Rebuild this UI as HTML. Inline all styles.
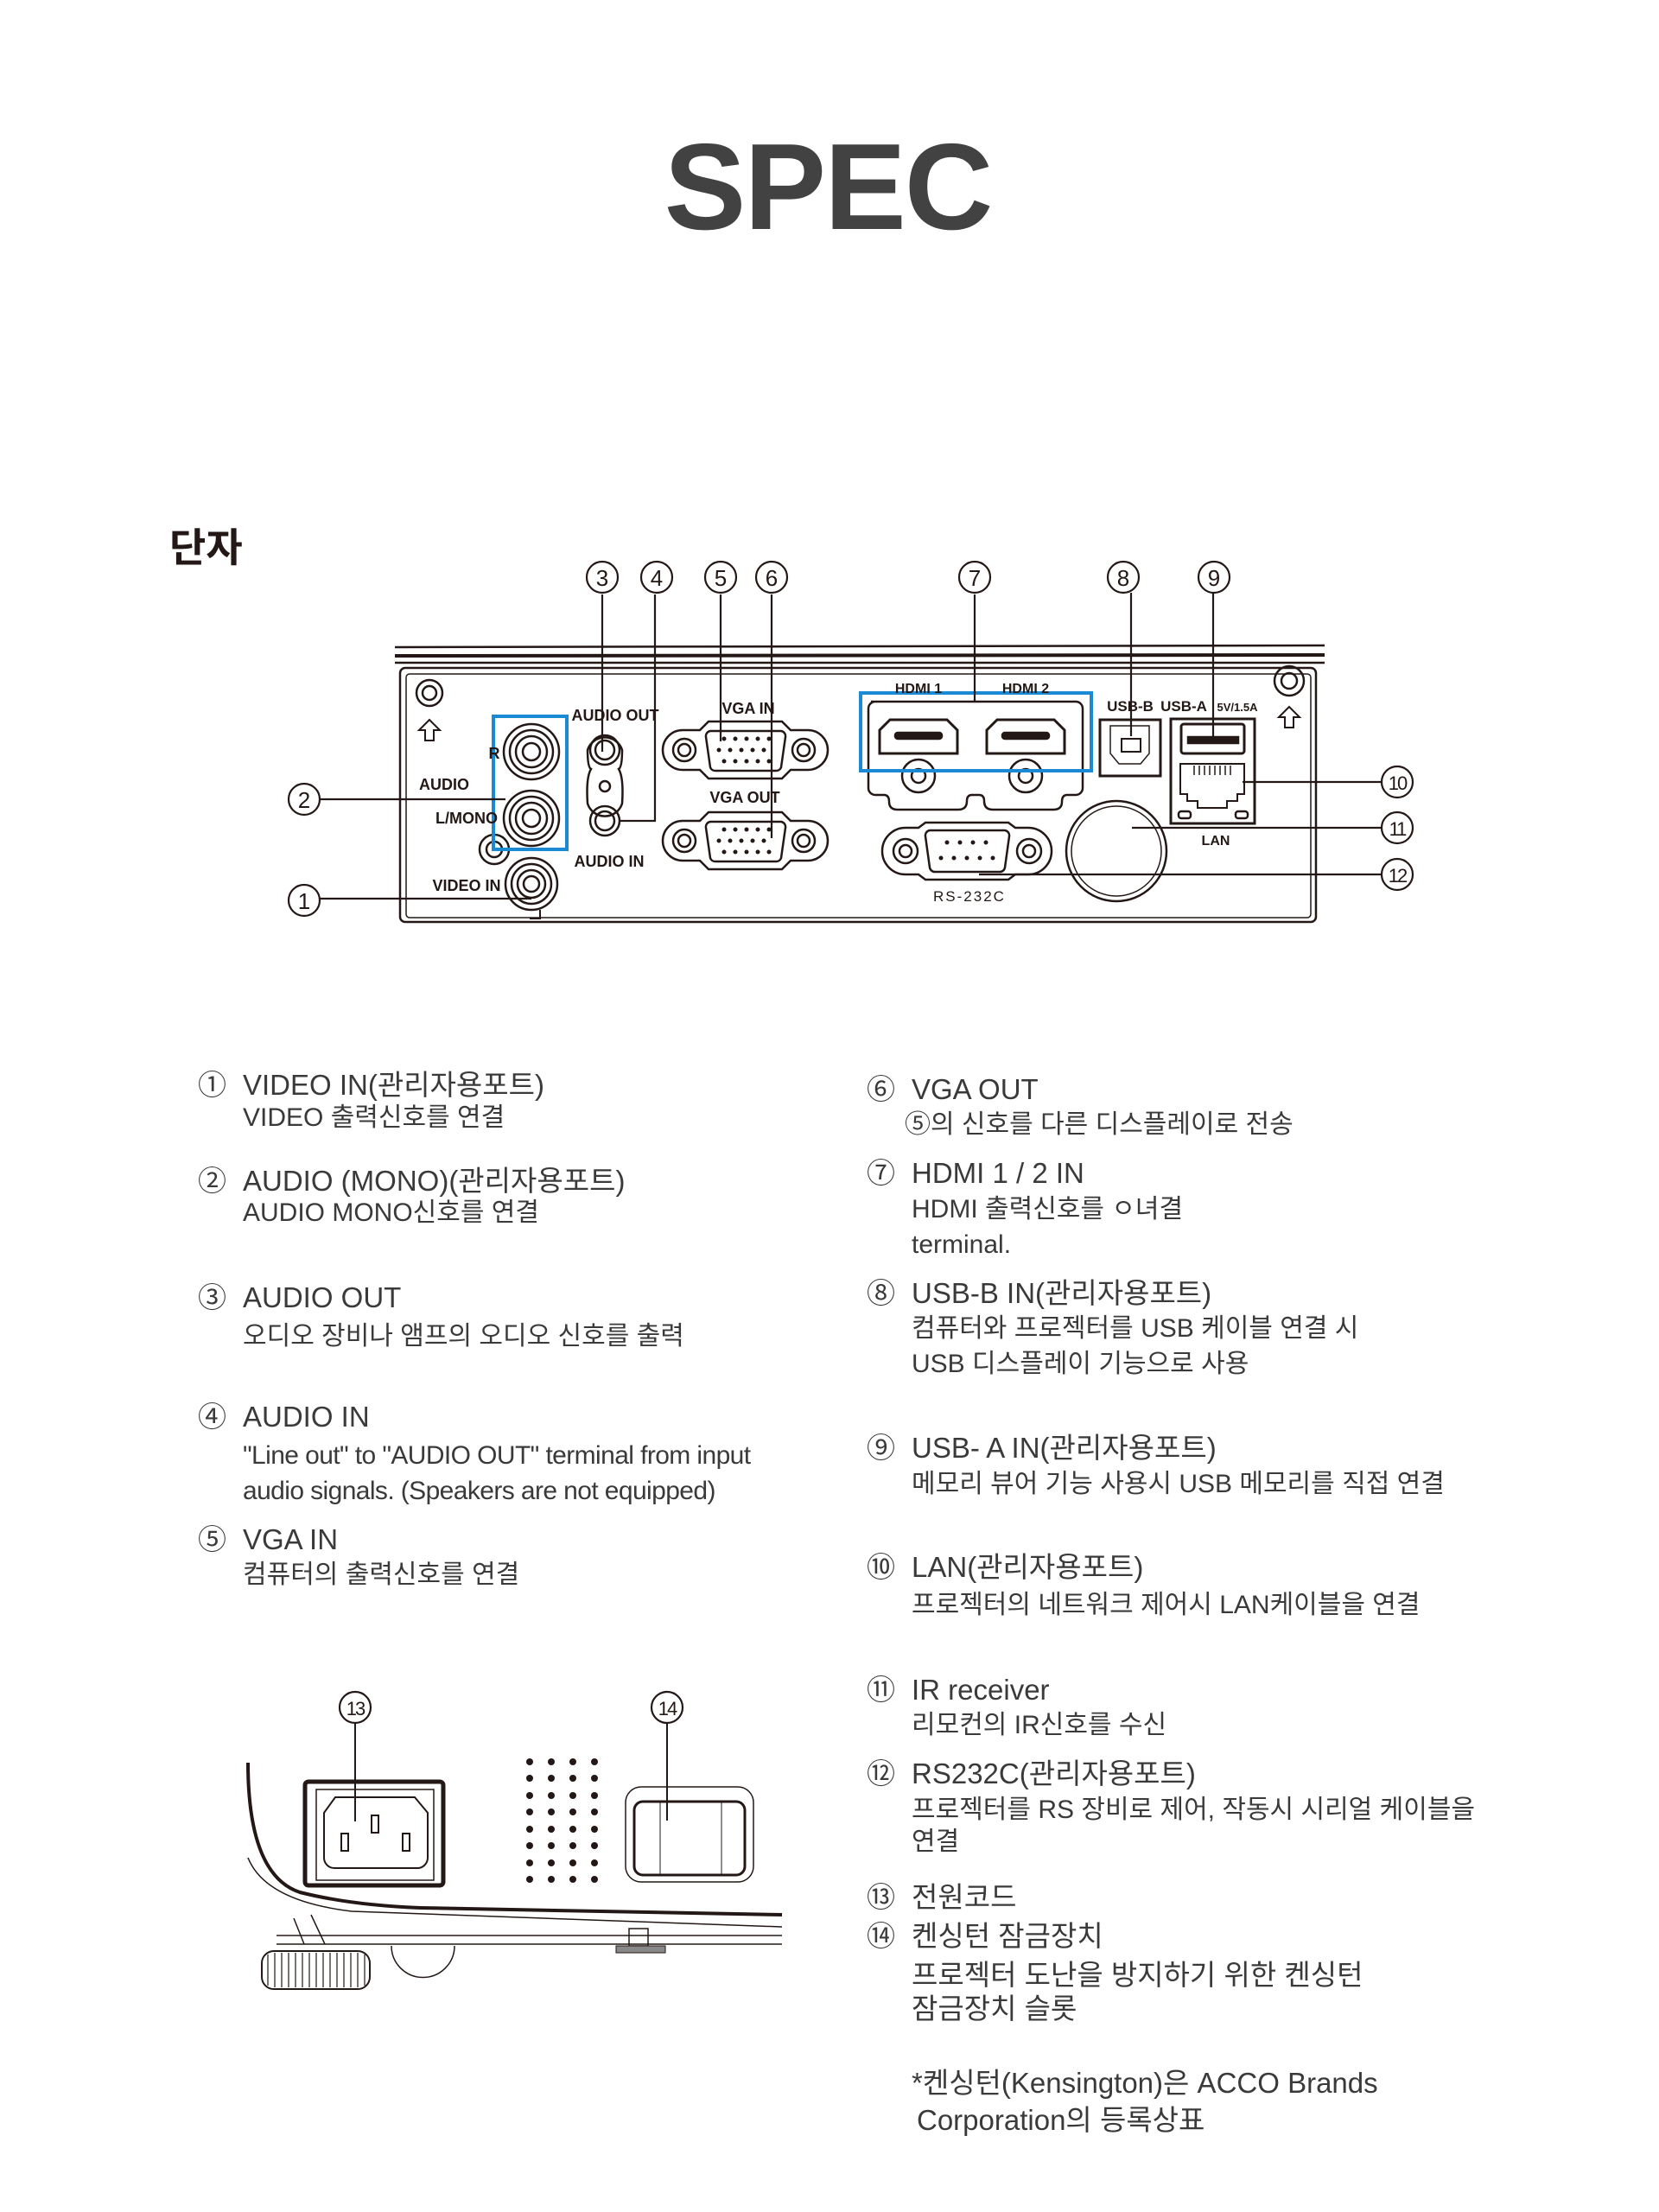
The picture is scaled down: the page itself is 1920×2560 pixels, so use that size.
<!DOCTYPE html>
<html><head><meta charset="utf-8"><style>
html,body{margin:0;padding:0;background:#fff;}
body{width:1920px;height:2560px;overflow:hidden;}
svg{display:block}
.t{font-family:"Liberation Sans","Noto Sans CJK KR",sans-serif;fill:#3a3a3a;}
.h{font-size:33px;}
.s{font-size:30px;}
.lb{font-family:"Liberation Sans",sans-serif;font-weight:bold;font-size:18px;fill:#231815;text-anchor:middle;}
.cn{font-family:"Liberation Sans",sans-serif;font-size:26px;fill:#231815;text-anchor:middle;}
</style></head><body>
<svg width="1920" height="2560" viewBox="0 0 1920 2560" xmlns="http://www.w3.org/2000/svg">
<text x="958" y="265" text-anchor="middle" font-family="Liberation Sans,sans-serif" font-weight="bold" font-size="142" fill="#424242" letter-spacing="-2">SPEC</text>
<text x="196" y="650" font-family="Liberation Sans,Noto Sans CJK KR,sans-serif" font-weight="bold" font-size="46" fill="#231815">단자</text>

<g fill="none" stroke="#231815" stroke-width="2.5">
<!-- panel -->
<line x1="457" y1="749" x2="1533" y2="747"/>
<line x1="457" y1="759" x2="1533" y2="758" stroke-width="4"/>
<line x1="457" y1="767" x2="1533" y2="767"/>
<rect x="463" y="773" width="1060" height="294" rx="6"/>
<rect x="470" y="780" width="1047" height="282" rx="4" stroke-width="1.5"/>
<!-- screws -->
<circle cx="497" cy="802" r="15"/><circle cx="497" cy="802" r="8"/>
<circle cx="1492" cy="788" r="17"/><circle cx="1492" cy="788" r="9"/>
<path d="M497 833 l-12 12 h7 v12 h10 v-12 h7 z" stroke-width="2"/>
<path d="M1492 818 l-12 12 h7 v12 h10 v-12 h7 z" stroke-width="2"/>
<!-- audio jacks -->
<circle cx="615" cy="870" r="32"/><circle cx="615" cy="870" r="25"/><circle cx="615" cy="870" r="18"/><circle cx="615" cy="870" r="10"/>
<circle cx="615" cy="947" r="32"/><circle cx="615" cy="947" r="25"/><circle cx="615" cy="947" r="18"/><circle cx="615" cy="947" r="10"/>
<circle cx="572" cy="983" r="17"/><circle cx="572" cy="983" r="9"/>
<circle cx="615" cy="1023" r="30"/><circle cx="615" cy="1023" r="23"/><circle cx="615" cy="1023" r="16"/><circle cx="615" cy="1023" r="9"/>
<path d="M625 1053 v10 h-12" stroke-width="2"/>
<!-- audio out/in -->
<path d="M680 868 a21 21 0 0 1 40 0 q0 20 -4 22 q6 10 4 40 a21 21 0 0 1 -40 0 q-2 -30 4 -40 q-4 -2 -4 -22z"/>
<circle cx="700" cy="868" r="17"/><circle cx="700" cy="868" r="11"/>
<circle cx="700" cy="910" r="6"/>
<circle cx="700" cy="950" r="17"/><circle cx="700" cy="950" r="11"/>
<!-- VGA -->
<g id="vga">
<path d="M790 845 h20 l10 -10 h85 l10 10 h20 a22 22 0 0 1 0 46 h-20 l-10 10 h-85 l-10 -10 h-20 a22 22 0 0 1 0 -46z"/>
<circle cx="792" cy="868" r="13"/><circle cx="792" cy="868" r="7"/>
<circle cx="930" cy="868" r="13"/><circle cx="930" cy="868" r="7"/>
<path d="M822 846 h82 a6 6 0 0 1 5 7 l-5 35 a6 6 0 0 1 -6 4 h-70 a6 6 0 0 1 -6 -4 l-5 -35 a6 6 0 0 1 5 -7z"/>
<g fill="#231815" stroke="none">
<circle cx="838" cy="855" r="2.5"/><circle cx="851" cy="855" r="2.5"/><circle cx="864" cy="855" r="2.5"/><circle cx="877" cy="855" r="2.5"/><circle cx="890" cy="855" r="2.5"/>
<circle cx="832" cy="868" r="2.5"/><circle cx="845" cy="868" r="2.5"/><circle cx="858" cy="868" r="2.5"/><circle cx="871" cy="868" r="2.5"/><circle cx="884" cy="868" r="2.5"/>
<circle cx="838" cy="881" r="2.5"/><circle cx="851" cy="881" r="2.5"/><circle cx="864" cy="881" r="2.5"/><circle cx="877" cy="881" r="2.5"/><circle cx="890" cy="881" r="2.5"/>
</g>
</g>
<use href="#vga" transform="translate(0,105)"/>
<!-- HDMI region -->
<path d="M1008 812 h237 a8 8 0 0 1 8 8 v92 a8 8 0 0 1 -8 8 h-10 q-6 0 -6 8 q0 9 -10 9 h-70 q-10 0 -10 -10 q0 -7 -6 -7 h-8 q-6 0 -6 7 q0 10 -10 10 h-70 q-10 0 -10 -9 q0 -8 -6 -8 h-10 a8 8 0 0 1 -8 -8 v-92 a8 8 0 0 1 8 -8z"/>
<path d="M1030 833 h66 l12 12 v27 h-90 v-27z" stroke-width="3"/>
<rect x="1036" y="848" width="54" height="7" rx="3" fill="#231815"/>
<path d="M1154 833 h66 l12 12 v27 h-90 v-27z" stroke-width="3"/>
<rect x="1160" y="848" width="54" height="7" rx="3" fill="#231815"/>
<circle cx="1063" cy="898" r="19"/><circle cx="1063" cy="898" r="8"/>
<circle cx="1187" cy="898" r="19"/><circle cx="1187" cy="898" r="8"/>
<!-- RS232 -->
<path d="M1048 958 h15 l8 -6 h96 l8 6 h15 a27 27 0 0 1 0 54 h-15 l-8 6 h-96 l-8 -6 h-15 a27 27 0 0 1 0 -54z"/>
<circle cx="1048" cy="985" r="14"/><circle cx="1048" cy="985" r="7"/>
<circle cx="1191" cy="985" r="14"/><circle cx="1191" cy="985" r="7"/>
<path d="M1076 961 h87 a6 6 0 0 1 5 7 l-5 36 a6 6 0 0 1 -6 5 h-75 a6 6 0 0 1 -6 -5 l-5 -36 a6 6 0 0 1 5 -7z"/>
<g fill="#231815" stroke="none"><circle cx="1096" cy="975" r="2.5"/><circle cx="1111" cy="975" r="2.5"/><circle cx="1126" cy="975" r="2.5"/><circle cx="1141" cy="975" r="2.5"/>
<circle cx="1089" cy="993" r="2.5"/><circle cx="1104" cy="993" r="2.5"/><circle cx="1119" cy="993" r="2.5"/><circle cx="1134" cy="993" r="2.5"/><circle cx="1149" cy="993" r="2.5"/></g>
<!-- IR -->
<circle cx="1292" cy="985" r="58"/><circle cx="1292" cy="985" r="52" stroke-width="1.5"/>
<!-- USB-B -->
<rect x="1273" y="833" width="70" height="65" stroke-width="3"/>
<path d="M1285 840 h45 v32 l-10 12 h-25 l-10 -12z" stroke-width="1.5"/>
<rect x="1298" y="855" width="22" height="15" stroke-width="2"/>
<!-- USB-A / LAN -->
<rect x="1355" y="832" width="97" height="121" stroke-width="3"/>
<rect x="1367" y="838" width="73" height="34" rx="3" stroke-width="3"/>
<rect x="1375" y="853" width="58" height="7" fill="#231815"/>
<path d="M1366 884 h74 v35 h-8 v8 h-12 v8 h-34 v-8 h-12 v-8 h-8z" stroke-width="2"/>
<g stroke-width="1.5"><line x1="1382" y1="886" x2="1382" y2="897"/><line x1="1388" y1="886" x2="1388" y2="897"/><line x1="1394" y1="886" x2="1394" y2="897"/><line x1="1400" y1="886" x2="1400" y2="897"/><line x1="1406" y1="886" x2="1406" y2="897"/><line x1="1412" y1="886" x2="1412" y2="897"/><line x1="1418" y1="886" x2="1418" y2="897"/><line x1="1424" y1="886" x2="1424" y2="897"/></g>
<rect x="1364" y="939" width="14" height="8" rx="3"/><rect x="1430" y="939" width="14" height="8" rx="3"/>
</g>
<!-- blue boxes -->
<rect x="571" y="829" width="85" height="154" fill="none" stroke="#1a8ad4" stroke-width="4"/>
<rect x="996" y="802" width="267" height="90" fill="none" stroke="#1a8ad4" stroke-width="4"/>
<!-- leaders -->
<g stroke="#231815" stroke-width="2.2" fill="none">
<line x1="697" y1="688" x2="697" y2="870"/>
<polyline points="758,688 758,950 718,950"/>
<line x1="834" y1="688" x2="834" y2="858"/>
<line x1="893" y1="688" x2="893" y2="970"/>
<line x1="1128" y1="688" x2="1128" y2="812"/>
<line x1="1309" y1="686" x2="1309" y2="852"/>
<line x1="1404" y1="686" x2="1404" y2="852"/>
<line x1="1599" y1="905" x2="1438" y2="905"/>
<line x1="1599" y1="958" x2="1310" y2="958"/>
<line x1="1599" y1="1012" x2="1133" y2="1012"/>
<line x1="370" y1="925" x2="585" y2="925"/>
<line x1="370" y1="1040" x2="615" y2="1040"/>
</g>
<!-- circled numbers -->
<g fill="#fff" stroke="#231815" stroke-width="2.2">
<circle cx="697" cy="668" r="18"/><circle cx="760" cy="668" r="18"/><circle cx="834" cy="668" r="18"/><circle cx="893" cy="668" r="18"/>
<circle cx="1128" cy="668" r="18"/><circle cx="1300" cy="668" r="18"/><circle cx="1405" cy="668" r="18"/>
<circle cx="1617" cy="905" r="18"/><circle cx="1617" cy="958" r="18"/><circle cx="1617" cy="1012" r="18"/>
<circle cx="352" cy="925" r="18"/><circle cx="352" cy="1042" r="18"/>
<circle cx="411" cy="1976" r="18"/><circle cx="772" cy="1976" r="18"/>
</g>
<g class="cn">
<text x="697" y="678">3</text><text x="760" y="678">4</text><text x="834" y="678">5</text><text x="893" y="678">6</text>
<text x="1128" y="678">7</text><text x="1300" y="678">8</text><text x="1405" y="678">9</text>
<text x="1617" y="914" font-size="22" letter-spacing="-2">10</text><text x="1617" y="967" font-size="22" letter-spacing="-2">11</text><text x="1617" y="1021" font-size="22" letter-spacing="-2">12</text>
<text x="352" y="935">2</text><text x="352" y="1052">1</text>
<text x="411" y="1985" font-size="22" letter-spacing="-2">13</text><text x="772" y="1985" font-size="22" letter-spacing="-2">14</text>
</g>
<!-- panel labels -->
<g class="lb">
<text x="712" y="834" fill="#231815">AUDIO OUT</text>
<text x="572" y="878">R</text>
<text x="514" y="914">AUDIO</text>
<text x="540" y="953">L/MONO</text>
<text x="705" y="1003">AUDIO IN</text>
<text x="540" y="1031">VIDEO IN</text>
<text x="866" y="826">VGA IN</text>
<text x="862" y="929">VGA OUT</text>
<text x="1063" y="802" font-size="16">HDMI 1</text>
<text x="1187" y="802" font-size="16">HDMI 2</text>
<text x="1308" y="823" font-size="17">USB-B</text>
<text x="1370" y="823" font-size="17">USB-A</text>
<text x="1432" y="823" font-size="13">5V/1.5A</text>
<text x="1407" y="978" font-size="16">LAN</text>
<text x="1122" y="1043" font-size="17" letter-spacing="2" font-weight="normal">RS-232C</text>
</g>

<!-- bottom drawing -->
<g fill="none" stroke="#231815" stroke-width="2.5">
<line x1="411" y1="1994" x2="411" y2="2108" stroke-width="2"/>
<line x1="772" y1="1994" x2="772" y2="2107" stroke-width="2"/>
<rect x="353" y="2062" width="160" height="120" rx="4" stroke-width="5"/>
<rect x="366" y="2071" width="136" height="105" stroke-width="1.5"/>
<path d="M388 2080 h92 l15 18 v52 a12 12 0 0 1 -12 12 h-96 a12 12 0 0 1 -12 -12 v-52z" stroke-width="2"/>
<rect x="430" y="2101" width="8" height="20" stroke-width="2"/>
<rect x="395" y="2122" width="8" height="20" stroke-width="2"/>
<rect x="466" y="2122" width="8" height="20" stroke-width="2"/>
<rect x="724" y="2068" width="148" height="110" rx="18" stroke-width="1.5"/>
<rect x="734" y="2085" width="128" height="85" rx="10" stroke-width="3"/>
<line x1="764" y1="2085" x2="764" y2="2170" stroke-width="1"/>
<line x1="835" y1="2085" x2="835" y2="2170" stroke-width="1"/>
<path d="M287 2040 q0 130 60 150 q60 15 140 18 l418 8" stroke-width="4"/>
<path d="M287 2150 q20 50 120 62 l498 18" stroke-width="1.5"/>
<line x1="320" y1="2240" x2="905" y2="2240" stroke-width="1.5"/>
<line x1="320" y1="2250" x2="905" y2="2250" stroke-width="1.5"/>
<path d="M453 2252 a36 36 0 0 0 73 0" stroke-width="1.5"/>
<path d="M340 2220 l12 30 M360 2216 l16 34" stroke-width="1.5"/>
<rect x="728" y="2232" width="22" height="20" stroke-width="1.5"/>
<rect x="713" y="2252" width="57" height="8" fill="#888" stroke-width="1"/>
<rect x="303" y="2258" width="125" height="44" rx="14" stroke-width="2"/>
<path d="M310 2262 v36 M318 2260 v40 M326 2260 v40 M334 2260 v40 M342 2260 v40 M350 2260 v40 M358 2260 v40 M366 2260 v40 M374 2260 v40 M382 2260 v40 M390 2260 v40 M398 2260 v40 M406 2260 v40 M414 2260 v40 M422 2262 v36" stroke-width="1.2"/>
</g>
<g fill="#231815">
<circle cx="613" cy="2039" r="4"/><circle cx="638" cy="2039" r="4"/><circle cx="663" cy="2039" r="4"/><circle cx="688" cy="2039" r="4"/>
<circle cx="613" cy="2058" r="4"/><circle cx="638" cy="2058" r="4"/><circle cx="663" cy="2058" r="4"/><circle cx="688" cy="2058" r="4"/>
<circle cx="613" cy="2078" r="4"/><circle cx="638" cy="2078" r="4"/><circle cx="663" cy="2078" r="4"/><circle cx="688" cy="2078" r="4"/>
<circle cx="613" cy="2097" r="4"/><circle cx="638" cy="2097" r="4"/><circle cx="663" cy="2097" r="4"/><circle cx="688" cy="2097" r="4"/>
<circle cx="613" cy="2117" r="4"/><circle cx="638" cy="2117" r="4"/><circle cx="663" cy="2117" r="4"/><circle cx="688" cy="2117" r="4"/>
<circle cx="613" cy="2136" r="4"/><circle cx="638" cy="2136" r="4"/><circle cx="663" cy="2136" r="4"/><circle cx="688" cy="2136" r="4"/>
<circle cx="613" cy="2156" r="4"/><circle cx="638" cy="2156" r="4"/><circle cx="663" cy="2156" r="4"/><circle cx="688" cy="2156" r="4"/>
<circle cx="613" cy="2175" r="4"/><circle cx="638" cy="2175" r="4"/><circle cx="663" cy="2175" r="4"/><circle cx="688" cy="2175" r="4"/>
</g>

<!-- left text column -->
<g class="t">
<text class="h" x="229" y="1267">①</text><text class="h" x="281" y="1267">VIDEO IN(관리자용포트)</text>
<text class="s" x="281" y="1303">VIDEO 출력신호를 연결</text>
<text class="h" x="229" y="1378">②</text><text class="h" x="281" y="1378">AUDIO (MONO)(관리자용포트)</text>
<text class="s" x="281" y="1413">AUDIO MONO신호를 연결</text>
<text class="h" x="229" y="1513">③</text><text class="h" x="281" y="1513">AUDIO OUT</text>
<text class="s" x="281" y="1556">오디오 장비나 앰프의 오디오 신호를 출력</text>
<text class="h" x="229" y="1651">④</text><text class="h" x="281" y="1651">AUDIO IN</text>
<text class="s" x="281" y="1694" letter-spacing="-0.6">"Line out" to "AUDIO OUT" terminal from input</text>
<text class="s" x="281" y="1735" letter-spacing="-0.6">audio signals. (Speakers are not equipped)</text>
<text class="h" x="229" y="1793">⑤</text><text class="h" x="281" y="1793">VGA IN</text>
<text class="s" x="281" y="1832">컴퓨터의 출력신호를 연결</text>
</g>
<!-- right text column -->
<g class="t">
<text class="h" x="1003" y="1272">⑥</text><text class="h" x="1055" y="1272">VGA OUT</text>
<text class="s" x="1047" y="1311">⑤의 신호를 다른 디스플레이로 전송</text>
<text class="h" x="1003" y="1369">⑦</text><text class="h" x="1055" y="1369">HDMI 1 / 2 IN</text>
<text class="s" x="1055" y="1409">HDMI 출력신호를 ㅇ녀결</text>
<text class="s" x="1055" y="1450">terminal.</text>
<text class="h" x="1003" y="1508">⑧</text><text class="h" x="1055" y="1508">USB-B IN(관리자용포트)</text>
<text class="s" x="1055" y="1547">컴퓨터와 프로젝터를 USB 케이블 연결 시</text>
<text class="s" x="1055" y="1588">USB 디스플레이 기능으로 사용</text>
<text class="h" x="1003" y="1687">⑨</text><text class="h" x="1055" y="1687">USB- A IN(관리자용포트)</text>
<text class="s" x="1055" y="1727">메모리 뷰어 기능 사용시 USB 메모리를 직접 연결</text>
<text class="h" x="1003" y="1825">⑩</text><text class="h" x="1055" y="1825">LAN(관리자용포트)</text>
<text class="s" x="1055" y="1867">프로젝터의 네트워크 제어시 LAN케이블을 연결</text>
<text class="h" x="1003" y="1967">⑪</text><text class="h" x="1055" y="1967">IR receiver</text>
<text class="s" x="1055" y="2006">리모컨의 IR신호를 수신</text>
<text class="h" x="1003" y="2064">⑫</text><text class="h" x="1055" y="2064">RS232C(관리자용포트)</text>
<text class="s" x="1055" y="2104">프로젝터를 RS 장비로 제어, 작동시 시리얼 케이블을</text>
<text class="s" x="1055" y="2141">연결</text>
<text class="h" x="1003" y="2207">⑬</text><text class="h" x="1055" y="2207">전원코드</text>
<text class="h" x="1003" y="2252">⑭</text><text class="h" x="1055" y="2252">켄싱턴 잠금장치</text>
<text class="h" x="1055" y="2297">프로젝터 도난을 방지하기 위한 켄싱턴</text>
<text class="h" x="1055" y="2336">잠금장치 슬롯</text>
<text class="h" x="1055" y="2422">*켄싱턴(Kensington)은 ACCO Brands</text>
<text class="h" x="1061" y="2465">Corporation의 등록상표</text>
</g>
</svg>
</body></html>
